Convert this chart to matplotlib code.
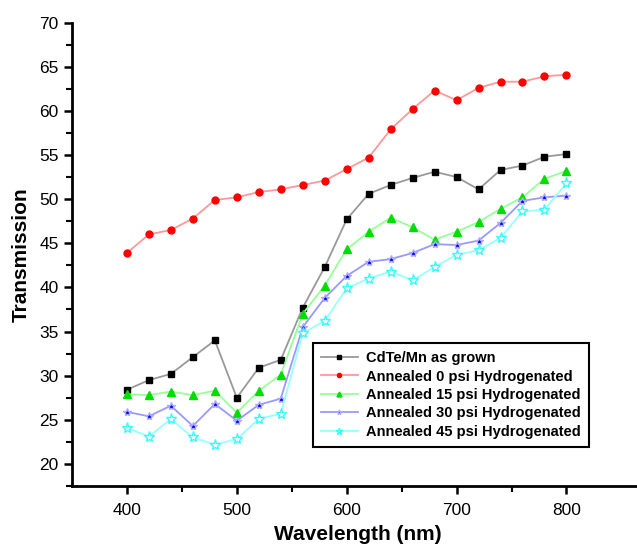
import numpy as np
import matplotlib
matplotlib.use('Agg')
import matplotlib.pyplot as plt
from matplotlib.ticker import MultipleLocator, FixedLocator

plt.rcParams['font.family'] = ['Liberation Sans', 'DejaVu Sans']

wavelength = np.arange(400, 801, 20)

as_grown = [28.4, 29.5, 30.2, 32.1, 34.0, 27.5, 30.9, 31.8, 37.7, 42.3, 47.7,
            50.6, 51.6, 52.4, 53.1, 52.5, 51.1, 53.3, 53.8, 54.8, 55.1]
psi0 = [43.9, 46.0, 46.5, 47.8, 49.9, 50.2, 50.8, 51.1, 51.6, 52.1, 53.4,
        54.7, 57.9, 60.2, 62.3, 61.2, 62.6, 63.3, 63.3, 63.9, 64.1]
psi15 = [27.9, 27.8, 28.2, 27.8, 28.3, 25.8, 28.3, 30.1, 37.0, 40.2, 44.3,
         46.3, 47.9, 46.8, 45.4, 46.3, 47.4, 48.9, 50.2, 52.3, 53.2]
psi30 = [25.9, 25.4, 26.6, 24.3, 26.8, 24.9, 26.7, 27.4, 35.5, 38.8, 41.3,
         42.9, 43.2, 43.9, 44.9, 44.8, 45.3, 47.3, 49.8, 50.2, 50.4]
psi45 = [24.1, 23.1, 25.1, 23.0, 22.2, 22.8, 25.1, 25.7, 34.8, 36.2, 39.9,
         41.0, 41.8, 40.8, 42.3, 43.7, 44.2, 45.6, 48.6, 48.8, 51.8]

labels = ['CdTe/Mn as grown', 'Annealed 0 psi Hydrogenated',
          'Annealed 15 psi Hydrogenated', 'Annealed 30 psi Hydrogenated',
          'Annealed 45 psi Hydrogenated']

fig = plt.figure(figsize=(6.37, 5.5), dpi=100)
ax = fig.add_axes([0.113, 0.1155, 0.897, 0.8435])

ax.plot(wavelength, as_grown, '-', color='#999999', lw=1.3, marker='s', ms=5,
        mfc='black', mec='black', label=labels[0])
ax.plot(wavelength, psi0, '-', color='#ff9999', lw=1.3, marker='o', ms=5,
        mfc='red', mec='red', label=labels[1])
ax.plot(wavelength, psi15, '-', color='#99ff99', lw=1.3, marker='^', ms=6,
        mfc='#00dd00', mec='#00dd00', label=labels[2])
ax.plot(wavelength, psi30, '-', color='#9999ff', lw=1.3, marker='*', ms=6,
        mfc='blue', mec='#aaaaff', label=labels[3])
ax.plot(wavelength, psi45, '-', color='#99ffff', lw=1.3, marker='*', ms=8,
        mfc='white', mec='#33ffff', mew=1.0, label=labels[4])

ax.set_xlim(350, 870)
ax.set_ylim(17.45, 70)
ax.xaxis.set_major_locator(FixedLocator([400, 500, 600, 700, 800]))
ax.xaxis.set_minor_locator(FixedLocator([450, 550, 650, 750]))
ax.yaxis.set_major_locator(MultipleLocator(5))
ax.yaxis.set_minor_locator(MultipleLocator(2.5))

for side in ['top', 'right']:
    ax.spines[side].set_visible(False)
for side in ['left', 'bottom']:
    ax.spines[side].set_linewidth(2)

ax.tick_params(which='major', direction='out', length=6, width=1.8, labelsize=12.5,
               colors='black')
ax.tick_params(which='minor', direction='out', length=4, width=1.5)
ax.tick_params(axis='x', pad=6)

ax.set_xlabel('Wavelength (nm)', fontsize=15, fontweight='bold', labelpad=5)
ax.set_ylabel('Transmission', fontsize=15, fontweight='bold', labelpad=6)

leg = ax.legend(loc='upper left', bbox_to_anchor=(0.422, 0.309), borderaxespad=0,
                fancybox=False, edgecolor='black', framealpha=1,
                prop={'weight': 'bold', 'size': 10.5}, handlelength=2.5,
                markerscale=0.6, labelspacing=0.3, borderpad=0.55,
                handletextpad=0.6)
leg.get_frame().set_linewidth(1.5)

fig.savefig('out.png', dpi=100)
